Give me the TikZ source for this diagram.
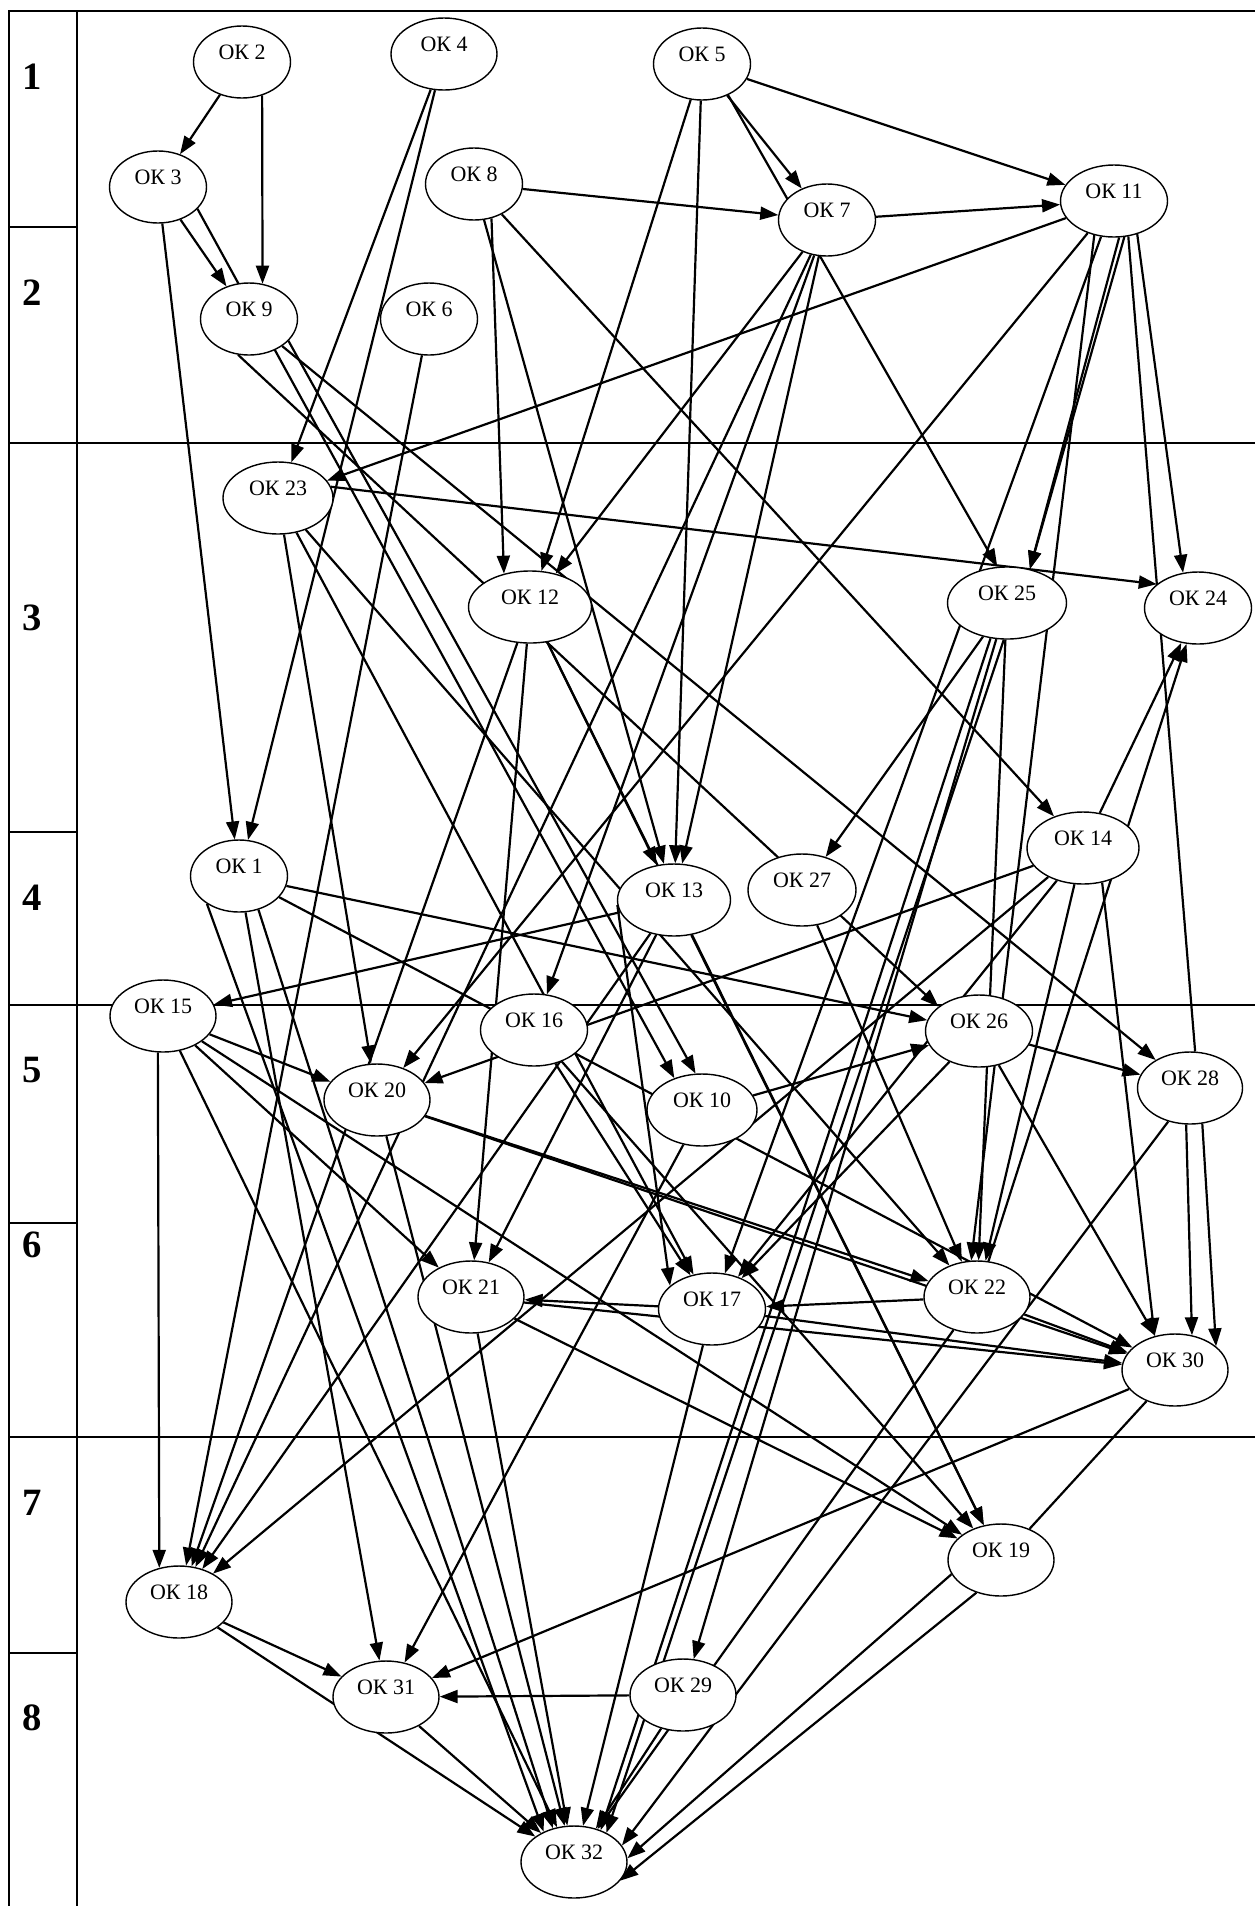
\documentclass[tikz,border=0pt]{standalone}
\usepackage{fontspec}
\setmainfont{Liberation Serif}
\usetikzlibrary{
  arrows.meta,
  shapes.geometric,
  backgrounds
}

\begin{document}
\begin{tikzpicture}[
  oknode/.style={
    ellipse, draw, fill=white, line width=0.8pt,
    minimum width=2.12cm, minimum height=1.44cm, inner sep=0pt,
    font=\fontsize{12.5}{14}\selectfont,
    text height=0.3cm, text depth=0.42cm
  },
  rownum/.style={font=\fontsize{22}{26}\selectfont\bfseries},
  tableline/.style={line width=1.1pt},
  arrow/.style={-{Triangle[length=0.36cm, width=0.26cm]}, line width=1.25pt},
  lineonly/.style={line width=1.25pt}
]
 \useasboundingbox (0,0) rectangle (25.10,-38.12);

 % Level 1 and 2
 \node[oknode, minimum width=1.94cm] (ok2)  at ( 4.84, -1.24) {ОК 2};
 \node[oknode]                       (ok4)  at ( 8.88, -1.08) {ОК 4};
 \node[oknode, minimum width=1.94cm] (ok5)  at (14.04, -1.28) {ОК 5};
 \node[oknode, minimum width=1.94cm] (ok3)  at ( 3.16, -3.74) {ОК 3};
 \node[oknode, minimum width=1.94cm] (ok8)  at ( 9.48, -3.68) {ОК 8};
 \node[oknode, minimum width=1.94cm] (ok7)  at (16.54, -4.40) {ОК 7};
 \node[oknode, minimum width=2.14cm] (ok11) at (22.28, -4.02) {ОК 11};
 \node[oknode, minimum width=1.94cm] (ok9)  at ( 4.98, -6.38) {ОК 9};
 \node[oknode, minimum width=1.94cm] (ok6)  at ( 8.58, -6.38) {ОК 6};

 % Level 3 and 4
 \node[oknode, minimum width=2.20cm] (ok23) at ( 5.56, -9.96) {ОК 23};
 \node[oknode, minimum width=2.46cm] (ok12) at (10.60,-12.14) {ОК 12};
 \node[oknode, minimum width=2.38cm] (ok25) at (20.14,-12.06) {ОК 25};
 \node[oknode, minimum width=2.14cm] (ok24) at (23.96,-12.16) {ОК 24};
 \node[oknode, minimum width=1.94cm] (ok1)  at ( 4.78,-17.52) {ОК 1};
 \node[oknode, minimum width=2.26cm] (ok13) at (13.48,-18.00) {ОК 13};
 \node[oknode, minimum width=2.16cm] (ok27) at (16.04,-17.80) {ОК 27};
 \node[oknode, minimum width=2.24cm] (ok14) at (21.66,-16.96) {ОК 14};

 % Level 5 and 6
 \node[oknode]                       (ok15) at ( 3.26,-20.32) {ОК 15};
 \node[oknode, minimum width=2.14cm] (ok16) at (10.68,-20.60) {ОК 16};
 \node[oknode]                       (ok20) at ( 7.54,-22.00) {ОК 20};
 \node[oknode, minimum width=2.20cm] (ok10) at (14.04,-22.20) {ОК 10};
 \node[oknode, minimum width=2.14cm] (ok26) at (19.58,-20.62) {ОК 26};
 \node[oknode, minimum width=2.10cm] (ok28) at (23.80,-21.76) {ОК 28};
 \node[oknode]                       (ok21) at ( 9.42,-25.94) {ОК 21};
 \node[oknode, minimum width=2.14cm] (ok17) at (14.24,-26.18) {ОК 17};
 \node[oknode]                       (ok22) at (19.54,-25.94) {ОК 22};
 \node[oknode]                       (ok30) at (23.50,-27.40) {ОК 30};

 % Level 7 and 8
 \node[oknode]                       (ok19) at (20.02,-31.20) {ОК 19};
 \node[oknode]                       (ok18) at ( 3.58,-32.04) {ОК 18};
 \node[oknode]                       (ok31) at ( 7.72,-33.94) {ОК 31};
 \node[oknode]                       (ok29) at (13.66,-33.90) {ОК 29};
 \node[oknode]                       (ok32) at (11.48,-37.24) {ОК 32};

 % Level numbers
 \node[rownum] (r1) at (0.64, -1.54) {1};
 \node[rownum] (r2) at (0.64, -5.86) {2};
 \node[rownum] (r3) at (0.64,-12.36) {3};
 \node[rownum] (r4) at (0.64,-17.96) {4};
 \node[rownum] (r5) at (0.64,-21.40) {5};
 \node[rownum] (r6) at (0.64,-24.90) {6};
 \node[rownum] (r7) at (0.64,-30.06) {7};
 \node[rownum] (r8) at (0.64,-34.36) {8};

 \begin{scope}[on background layer]
 \fill[white] (0,0) rectangle (25.10,-38.12);

 % Table
 \draw[tableline] (0.18,-38.12) -- (0.18,-0.22) -- (25.10,-0.22);
 \draw[tableline] (1.54,-0.22) -- (1.54,-38.12);
 \draw[tableline] (0.18, -8.86) -- (25.10, -8.86);
 \draw[tableline] (0.18,-20.10) -- (25.10,-20.10);
 \draw[tableline] (0.18,-28.74) -- (25.10,-28.74);
 \draw[tableline] (0.18, -4.54) -- (1.54, -4.54);
 \draw[tableline] (0.18,-16.64) -- (1.54,-16.64);
 \draw[tableline] (0.18,-24.46) -- (1.54,-24.46);
 \draw[tableline] (0.18,-33.06) -- (1.54,-33.06);

 % From level 1
 \draw[arrow] (ok2) -- (ok3); \draw[arrow] (ok2.-59) -- (ok9.69);
 \draw[arrow] (ok4) -- (ok23); \draw[arrow] (ok4) -- (ok1);
 \draw[arrow] (ok5) -- (ok11); \draw[arrow] (ok5) -- (ok7);
 \draw[arrow] (ok5.-50) -- (ok25.105);
 \draw[arrow] (ok5) -- (ok12); \draw[arrow] (ok5) -- (ok13);

 % From level 2
 \draw[arrow] (ok3) -- (ok9); \draw[arrow] (ok3) -- (ok1);
 \draw[arrow] (ok3.-29) -- (ok10.131);
 \draw[arrow] (ok9.-29) -- (ok10.100);
 \draw[arrow] (ok9) -- (ok28);
 \draw[arrow] (ok9.-107) -- (ok26.149);
 \draw[arrow] (ok8) -- (ok7); \draw[arrow] (ok8.-63) -- (ok12.128);
 \draw[arrow] (ok8) -- (ok13); \draw[arrow] (ok8) -- (ok14);
 \draw[arrow] (ok7) -- (ok11); \draw[arrow] (ok7) -- (ok12);
 \draw[arrow] (ok7) -- (ok16); \draw[arrow] (ok7) -- (ok13);
 \draw[arrow] (ok7) -- (ok18);
 \draw[arrow] (ok11) -- (ok23); \draw[arrow] (ok11) -- (ok20);
 \draw[arrow] (ok11) -- (ok17);
 \draw[arrow] (ok11.-120) -- (ok22.99);
 \draw[arrow] (ok11.-82) -- (ok25.56);
 \draw[arrow] (ok11.-74) -- (ok25.56);
 \draw[arrow] (ok11.-55) -- (ok24.113);
 \draw[lineonly] (ok11.-68) -- (ok28.82);
 \draw[arrow] (ok6) -- (ok18);

 % From level 3
 \draw[arrow] (ok23.12) -- (ok24.150);
 \draw[arrow] (ok23) -- (ok20); \draw[arrow] (ok23) -- (ok17);
 \draw[arrow] (ok23) -- (ok22);
 \draw[arrow] (ok12) -- (ok13); \draw[arrow] (ok12) -- (ok21);
 \draw[arrow] (ok12) -- (ok18); \draw[arrow] (ok12) -- (ok19);
 \draw[arrow] (ok25) -- (ok27); \draw[arrow] (ok25) -- (ok29);
 \draw[arrow] (ok25.-115) -- (ok32.50);
 \draw[arrow] (ok25.-95) -- (ok32.42);
 \draw[arrow] (ok25) -- (ok22);

 % From level 4
 \draw[arrow] (ok1) -- (ok26); \draw[arrow] (ok1) -- (ok30);
 \draw[arrow] (ok1) -- (ok31);
 \draw[arrow] (ok1.-139) -- (ok32.135);
 \draw[arrow] (ok1.-60) -- (ok32.122);
 \draw[arrow] (ok13) -- (ok15);
 \draw[arrow] (ok13.185) -- (ok17.151);
 \draw[arrow] (ok13) -- (ok21); \draw[arrow] (ok13) -- (ok19);
 \draw[arrow] (ok13) -- (ok18);
 \draw[arrow] (ok27) -- (ok22);
 \draw[arrow] (ok14) -- (ok24); \draw[arrow] (ok14) -- (ok17);
 \draw[arrow] (ok14) -- (ok20); \draw[arrow] (ok14) -- (ok18);
 \draw[arrow] (ok14.-61) -- (ok30.121);
 \draw[arrow] (ok14) -- (ok22);

 % From level 5
 \draw[arrow] (ok15) -- (ok20);
 \draw[arrow] (ok15.-98) -- (ok18.120);
 \draw[arrow] (ok15) -- (ok21); \draw[arrow] (ok15) -- (ok19);
 \draw[arrow] (ok15) -- (ok32);
 \draw[arrow] (ok16) -- (ok17); \draw[arrow] (ok16) -- (ok19);
 \draw[arrow] (ok10) -- (ok26); \draw[arrow] (ok10) -- (ok31);
 \draw[arrow] (ok26) -- (ok28); \draw[arrow] (ok26) -- (ok30);
 \draw[arrow] (ok26) -- (ok17);
 \draw[arrow] (ok20) -- (ok22); \draw[arrow] (ok20) -- (ok30);
 \draw[arrow] (ok20) -- (ok32);
 \draw[arrow] (ok28.-96) -- (ok30.64);
 \draw[arrow] (ok28.-71) -- (ok30.30);
 \draw[arrow] (ok28.-123) -- (ok32.19);

 % From level 6
 \draw[arrow] (ok17) -- (ok21); \draw[arrow] (ok17) -- (ok30);
 \draw[arrow] (ok17) -- (ok32);
 \draw[arrow] (ok22) -- (ok17); \draw[arrow] (ok22) -- (ok24);
 \draw[arrow] (ok22) -- (ok30); \draw[arrow] (ok22) -- (ok32);
 \draw[arrow] (ok21) -- (ok19); \draw[arrow] (ok21) -- (ok30);
 \draw[arrow] (ok21) -- (ok32);
 \draw[arrow] (ok30) -- (ok31);
 \draw[lineonly] (ok30) -- (ok19);

 % From levels 7 and 8
 \draw[arrow] (ok19.-164) -- (ok32.4);
 \draw[arrow] (ok19.-127) -- (ok32.-22);
 \draw[arrow] (ok29) -- (ok31); \draw[arrow] (ok29) -- (ok32);
 \draw[arrow] (ok18) -- (ok31); \draw[arrow] (ok18) -- (ok32);
 \draw[arrow] (ok31) -- (ok32);
 \end{scope}
\end{tikzpicture}
\end{document}
